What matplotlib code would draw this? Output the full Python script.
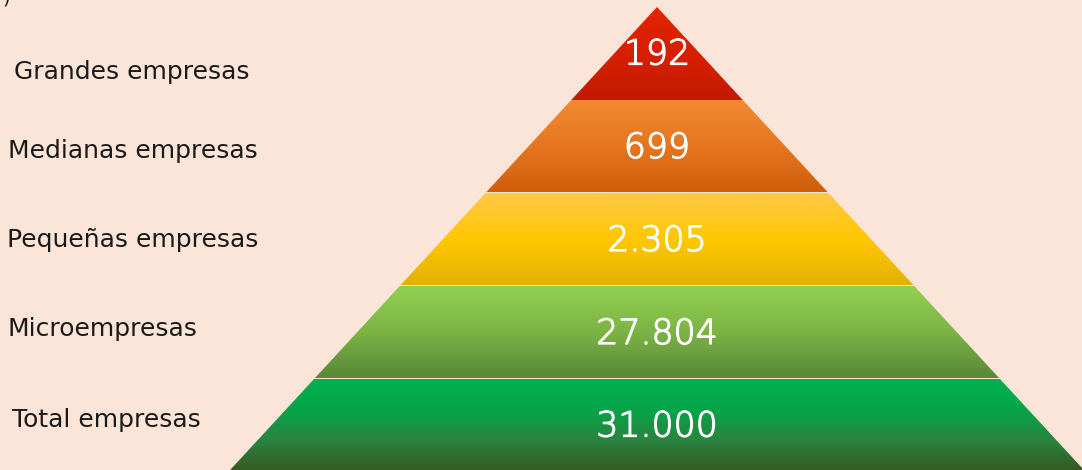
import numpy as np
import matplotlib.pyplot as plt
import matplotlib.patheffects as pe
from matplotlib.colors import LinearSegmentedColormap
from matplotlib.patches import Polygon

# Data, top of the pyramid first
categories = ["Grandes empresas", "Medianas empresas", "Pequeñas empresas",
              "Microempresas", "Total empresas"]
value_labels = ["192", "699", "2.305", "27.804", "31.000"]

# Gradient stops (top -> bottom) for each band
band_colors = [
    ["#E32400", "#D81F00", "#C21B00"],
    ["#F18A33", "#E5761F", "#CF5E0B"],
    ["#FFC84A", "#FFC800", "#E4B000"],
    ["#92D050", "#7CB446", "#578738"],
    ["#00B050", "#05A548", "#2A8540", "#375A22"],
]

BG = "#FBE5D8"
W, H = 1082, 470
apex_x, apex_y = 657, 7
slope = 0.922          # half-width growth per pixel of height
band_tops = [7, 100, 193, 286, 379]
band_bottoms = [100, 192, 285, 378, 470]

fig = plt.figure(figsize=(W / 100, H / 100), dpi=100)
fig.patch.set_facecolor(BG)
ax = fig.add_axes([0, 0, 1, 1])
ax.set_xlim(0, W)
ax.set_ylim(H, 0)
ax.axis("off")
ax.set_facecolor(BG)


def half_width(y):
    return (y - apex_y) * slope


for i, (top, bot) in enumerate(zip(band_tops, band_bottoms)):
    x0_top, x1_top = apex_x - half_width(top), apex_x + half_width(top)
    x0_bot, x1_bot = apex_x - half_width(bot), apex_x + half_width(bot)
    poly = Polygon([(x0_top, top), (x1_top, top), (x1_bot, bot), (x0_bot, bot)],
                   closed=True, facecolor="none", edgecolor="none")
    ax.add_patch(poly)
    cmap = LinearSegmentedColormap.from_list(f"band{i}", band_colors[i])
    grad = np.linspace(0, 1, 256).reshape(-1, 1)
    im = ax.imshow(grad, cmap=cmap, aspect="auto",
                   extent=[x0_bot, x1_bot, bot, top], interpolation="bilinear",
                   zorder=1)
    im.set_clip_path(poly)

    yc = (top + bot) / 2
    num_y = yc + 1 if i == 0 else yc + 2
    ax.text(apex_x, num_y, value_labels[i], color="white", fontsize=25,
            family="DejaVu Sans", fontweight="light", ha="center", va="center",
            zorder=3,
            path_effects=[pe.withStroke(linewidth=0.9, foreground="white")])

label_x = [14, 8, 7, 7, 12]
label_y = [72, 151, 240, 329, 420]
for name, lx, ly in zip(categories, label_x, label_y):
    ax.text(lx, ly, name, color="#1A1A1A", fontsize=18, family="DejaVu Sans",
            ha="left", va="center", zorder=3)

# clipped glyph remnant at top-left corner
ax.text(2, -2, ")", color="#1A1A1A", fontsize=14, ha="left", va="center")

ax.set_xlim(0, W)
ax.set_ylim(H, 0)
fig.savefig("out.png", dpi=100, facecolor=BG)
